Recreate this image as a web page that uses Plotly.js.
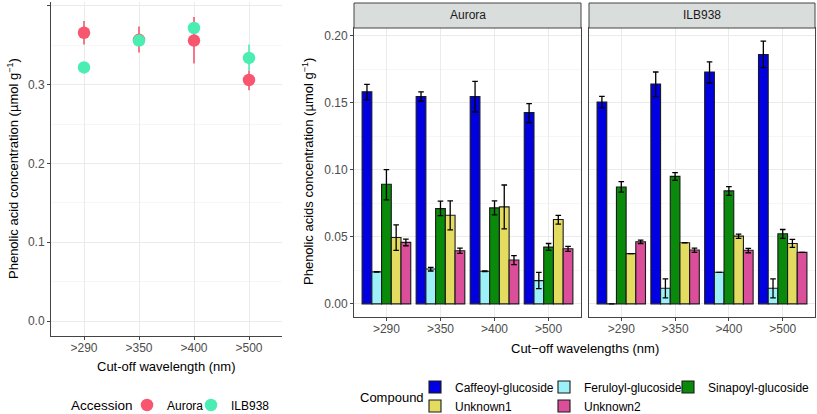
<!DOCTYPE html>
<html><head><meta charset="utf-8">
<script src="https://cdn.plot.ly/plotly-3.0.1.min.js"></script>
<style>body{margin:0;padding:0;background:#fff}#plot{width:817px;height:414px}</style>
</head><body><div id="plot"></div>
<script>
// ---------- Left panel: total phenolic acid ----------
const cutoffs = [">290", ">350", ">400", ">500"];
const accessions = ["Aurora", "ILB938"];
const totalAurora = [0.366, 0.357, 0.356, 0.306];
const totalAuroraLo = [0.351, 0.341, 0.327, 0.293];
const totalAuroraHi = [0.381, 0.374, 0.386, 0.318];
const totalILB = [0.322, 0.356, 0.372, 0.334];
const totalILBLo = [0.320, 0.350, 0.366, 0.318];
const totalILBHi = [0.324, 0.362, 0.378, 0.351];

// ---------- Right panels: individual compounds ----------
const compounds = ["Caffeoyl-glucoside", "Feruloyl-glucoside", "Sinapoyl-glucoside", "Unknown1", "Unknown2"];
// Aurora
const aurCaf = [0.158, 0.1545, 0.1545, 0.1426];
const aurCafLo = [0.152, 0.151, 0.143, 0.135];
const aurCafHi = [0.1636, 0.158, 0.1658, 0.1493];
const aurFer = [0.0238, 0.026, 0.0243, 0.0173];
const aurFerLo = [0.0236, 0.0245, 0.0241, 0.0114];
const aurFerHi = [0.0240, 0.0272, 0.0245, 0.0235];
const aurSin = [0.0891, 0.071, 0.0715, 0.0423];
const aurSinLo = [0.0775, 0.0658, 0.0663, 0.0399];
const aurSinHi = [0.100, 0.0765, 0.0767, 0.045];
const aurUn1 = [0.0495, 0.066, 0.0723, 0.0629];
const aurUn1Lo = [0.0399, 0.0552, 0.0559, 0.0594];
const aurUn1Hi = [0.0589, 0.0767, 0.0886, 0.066];
const aurUn2 = [0.0458, 0.0396, 0.0327, 0.0411];
const aurUn2Lo = [0.0433, 0.0376, 0.0292, 0.0391];
const aurUn2Hi = [0.0483, 0.0416, 0.0359, 0.0428];
// ILB938
const ilbCaf = [0.1505, 0.1639, 0.1728, 0.1859];
const ilbCafLo = [0.146, 0.1545, 0.1646, 0.176];
const ilbCafHi = [0.1547, 0.1728, 0.1804, 0.1958];
const ilbFer = [0, 0.0116, 0.0235, 0.0116];
const ilbFerLo = [0, 0.0045, 0.0235, 0.0045];
const ilbFerHi = [0, 0.0186, 0.0235, 0.0186];
const ilbSin = [0.0871, 0.095, 0.0842, 0.0522];
const ilbSinLo = [0.0832, 0.0921, 0.0809, 0.0488];
const ilbSinHi = [0.0911, 0.0978, 0.0874, 0.0554];
const ilbUn1 = [0.0374, 0.0455, 0.0505, 0.045];
const ilbUn1Lo = [0.0374, 0.0454, 0.0488, 0.0421];
const ilbUn1Hi = [0.0374, 0.0456, 0.052, 0.048];
const ilbUn2 = [0.0463, 0.0401, 0.0399, 0.0384];
const ilbUn2Lo = [0.045, 0.0384, 0.0381, 0.0384];
const ilbUn2Hi = [0.0475, 0.0416, 0.0413, 0.0384];

const accColors = ["#F8566E", "#4AEDB2"];
const compColors = ["#0000E0", "#9CF0F8", "#0A8A0A", "#E4DC60", "#DA4E9A"];

const W = 817, H = 414;
const px = x => x / W;
const py = y => 1 - y / H;
const FONT = "Liberation Sans, Arial, sans-serif";

function errs(m, lo, hi) {
  return {type: "data", symmetric: false,
    array: hi.map((h, i) => h - m[i]), arrayminus: lo.map((l, i) => m[i] - l)};
}

const accLegends = ["legend", "legend5"];
const compLegends = ["legend2", "legend3", "legend4", "legend2", "legend3"];

const traces = [];
[[totalAurora, totalAuroraLo, totalAuroraHi], [totalILB, totalILBLo, totalILBHi]].forEach((s, k) => {
  const e = errs(s[0], s[1], s[2]);
  traces.push({type: "scatter", mode: "markers", name: accessions[k], x: cutoffs, y: s[0],
    xaxis: "x", yaxis: "y", legend: accLegends[k],
    marker: {color: accColors[k], size: 12.5},
    error_y: Object.assign(e, {color: accColors[k], thickness: 1.6, width: 0})});
});

const aurSets = [[aurCaf, aurCafLo, aurCafHi], [aurFer, aurFerLo, aurFerHi], [aurSin, aurSinLo, aurSinHi], [aurUn1, aurUn1Lo, aurUn1Hi], [aurUn2, aurUn2Lo, aurUn2Hi]];
const ilbSets = [[ilbCaf, ilbCafLo, ilbCafHi], [ilbFer, ilbFerLo, ilbFerHi], [ilbSin, ilbSinLo, ilbSinHi], [ilbUn1, ilbUn1Lo, ilbUn1Hi], [ilbUn2, ilbUn2Lo, ilbUn2Hi]];

[[aurSets, "x2", "y2"], [ilbSets, "x3", "y3"]].forEach(([sets, xa, ya], f) => {
  sets.forEach((s, k) => {
    const e = errs(s[0], s[1], s[2]);
    traces.push({type: "bar", name: compounds[k], x: cutoffs, y: s[0], xaxis: xa, yaxis: ya,
      offsetgroup: String(k), legend: compLegends[k], showlegend: f === 0,
      marker: {color: compColors[k], line: {color: "#1a1a1a", width: 1.1}},
      error_y: Object.assign(e, {color: "#000", thickness: 1.3, width: 2.8})});
  });
});

const tickFont = {family: FONT, size: 12, color: "#4D4D4D"};
const gridC = "#EBEBEB", minorC = "#F4F4F4";

function yax(domain, range, dtick, fmt, anchor, showlabels, mirror) {
  return {domain: domain, range: range, dtick: dtick, tick0: 0, tickformat: fmt, anchor: anchor,
    showgrid: true, gridcolor: gridC, gridwidth: 1, zeroline: false,
    minor: {dtick: dtick / 2, tick0: 0, showgrid: true, gridcolor: minorC, gridwidth: 0.8, ticks: ""},
    showline: true, linecolor: "#444", linewidth: 1, mirror: mirror,
    ticks: showlabels ? "outside" : "", ticklen: 3, tickcolor: "#444", tickfont: tickFont,
    showticklabels: showlabels, fixedrange: true};
}
function xax(domain, anchor, mirror) {
  return {domain: domain, anchor: anchor, type: "category", range: [-0.6, 3.6],
    showgrid: true, gridcolor: gridC, gridwidth: 1, zeroline: false,
    showline: true, linecolor: "#444", linewidth: 1, mirror: mirror,
    ticks: "outside", ticklen: 3, tickcolor: "#444", tickfont: tickFont, ticklabelstandoff: -2, fixedrange: true};
}

function ann(text, x, y, opts) {
  return Object.assign({text: text, xref: "paper", yref: "paper", x: px(x), y: py(y), showarrow: false,
    xanchor: "center", yanchor: "middle", font: {family: FONT, size: 13, color: "#000"}}, opts || {});
}

const legendCommon = {orientation: "v", xanchor: "left", yanchor: "middle",
  font: {family: FONT, size: 12, color: "#000"}, itemclick: false, itemdoubleclick: false,
  bgcolor: "rgba(0,0,0,0)", traceorder: "normal", tracegroupgap: 0};

const layout = {
  width: W, height: H, margin: {l: 0, r: 0, t: 0, b: 0, autoexpand: false},
  paper_bgcolor: "#fff", plot_bgcolor: "#fff",
  font: {family: FONT, color: "#000"},
  barmode: "group", bargap: 0.1, bargroupgap: 0,
  xaxis: xax([px(51), px(282)], "y", false),
  yaxis: yax([py(336), py(2)], [-0.019, 0.405], 0.1, ".1f", "x", true, false),
  xaxis2: xax([px(354), px(581)], "y2", true),
  yaxis2: yax([py(317), py(28)], [-0.0098, 0.2056], 0.05, ".2f", "x2", true, true),
  xaxis3: xax([px(589), px(815)], "y3", true),
  yaxis3: yax([py(317), py(28)], [-0.0098, 0.2056], 0.05, ".2f", "x3", false, true),
  showlegend: true,
  legend: Object.assign({}, legendCommon, {x: px(127), y: py(405)}),
  legend5: Object.assign({}, legendCommon, {x: px(191), y: py(405)}),
  legend2: Object.assign({}, legendCommon, {x: px(415), y: py(396.5)}),
  legend3: Object.assign({}, legendCommon, {x: px(544), y: py(396.5)}),
  legend4: Object.assign({}, legendCommon, {x: px(668), y: py(387)}),
  shapes: [
    {type: "rect", xref: "paper", yref: "paper", x0: px(354), x1: px(581), y0: py(28), y1: py(3),
      fillcolor: "#D9DDDB", line: {color: "#444", width: 1}, layer: "above"},
    {type: "rect", xref: "paper", yref: "paper", x0: px(589), x1: px(815), y0: py(28), y1: py(3),
      fillcolor: "#D9DDDB", line: {color: "#444", width: 1}, layer: "above"}
  ],
  annotations: [
    ann("Aurora", 467.5, 15.5, {font: {family: FONT, size: 12, color: "#1a1a1a"}}),
    ann("ILB938", 702, 15.5, {font: {family: FONT, size: 12, color: "#1a1a1a"}}),
    ann("Phenolic acid concentration (µmol g<sup>−1</sup>)", 13, 169, {textangle: -90}),
    ann("Phenolic acids concentration (µmol g<sup>−1</sup>)", 308, 172, {textangle: -90}),
    ann("Cut-off wavelength (nm)", 166, 366),
    ann("Cut−off wavelengths (nm)", 584.5, 348),
    ann("Compound", 426, 397, {xanchor: "right"}),
    ann("Accession", 135, 405, {xanchor: "right", font: {family: FONT, size: 13.5, color: "#000"}})
  ]
};

Plotly.newPlot("plot", traces, layout, {displayModeBar: false, staticPlot: true});
</script></body></html>
